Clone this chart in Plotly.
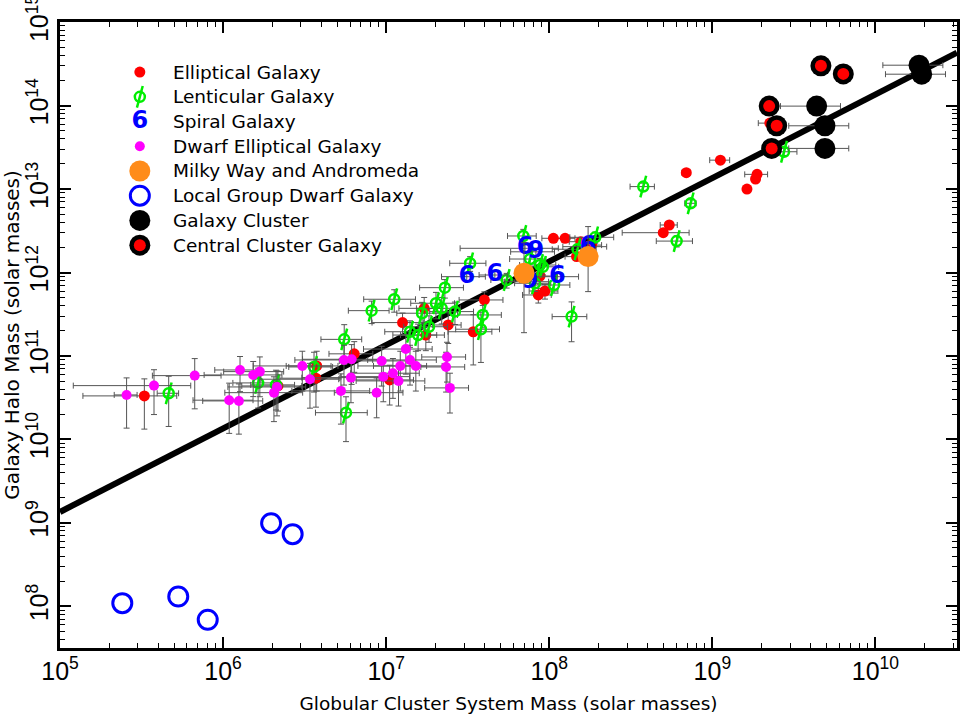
import plotly.graph_objects as go

# ---- data (solar masses) ----
fit_gc = [1e5, 3.16e10]
fit_halo = [1.35e9, 4.3e14]

ell_gc = [3.29e5, 2.17e6, 3.75e6, 3.71e6, 6.37e6, 1.05e7, 1.26e7, 1.71e7, 1.75e7, 2.40e7,
          4.00e7, 3.42e7, 8.77e7, 8.57e7, 9.41e7, 1.06e8, 1.25e8, 1.56e8, 1.82e8, 1.47e8,
          1.12e9, 6.92e8, 1.88e9, 1.84e9, 1.63e9, 5.44e8, 5.00e8, 2.25e9]
ell_halo = [3.32e10, 4.37e10, 7.59e10, 5.41e10, 1.06e11, 5.16e10, 2.51e11, 3.72e11, 1.78e11, 2.35e11,
            4.69e11, 1.95e11, 9.08e11, 5.38e11, 6.0e11, 2.57e12, 2.57e12, 2.34e12, 2.13e12, 1.55e12,
            2.22e13, 1.57e13, 1.50e13, 1.32e13, 1.0e13, 3.71e12, 3.00e12, 6.17e13]
ell_ex = [0.58, 0.4, 0.35, 0.4, 0.3, 0.4, 0.35, 0.3, 0.3, 0.2,
          0.3, 0.3, 0.2, 0.2, 0.2, 0.15, 0.15, 0.15, 0.15, 0.15,
          0.14, 0.06, 0.16, 0, 0, 0.12, 0.44, 0.15]
ell_ey = [0.6, 0.5, 0.5, 0.55, 0.4, 0.5, 0.3, 0.35, 0.35, 0.4,
          0.25, 0.6, 0.2, 0.2, 0.2, 0.1, 0.1, 0.1, 0.1, 0.1,
          0.05, 0.05, 0.05, 0, 0, 0.05, 0.1, 0.05]

len_gc = [4.64e5, 1.64e6, 2.11e6, 3.61e6, 5.53e6, 5.67e6, 8.14e6, 1.12e7, 1.40e7, 1.57e7,
          1.83e7, 1.66e7, 2.02e7, 2.19e7, 2.29e7, 2.64e7, 3.91e7, 3.81e7, 3.27e7, 5.48e7,
          6.93e7, 7.62e7, 8.77e7, 9.14e7, 8.17e7, 1.07e8, 1.37e8, 1.49e8, 1.91e8, 3.77e8,
          7.36e8, 6.04e8, 2.75e9]
len_halo = [3.57e10, 4.75e10, 4.50e10, 7.38e10, 1.58e11, 2.09e10, 3.49e11, 4.78e11, 1.95e11, 1.78e11,
            2.24e11, 3.25e11, 4.28e11, 3.72e11, 6.58e11, 3.40e11, 3.10e11, 2.09e11, 1.29e12, 8.13e11,
            2.74e12, 1.45e12, 1.23e12, 1.17e12, 7.43e11, 7.08e11, 2.96e11, 1.90e12, 2.64e12, 1.07e13,
            6.75e12, 2.38e12, 2.80e13]
len_ex = [0.15, 0.3, 0.3, 0.3, 0.28, 0.35, 0.28, 0.35, 0.3, 0.3,
          0.3, 0.3, 0.3, 0.3, 0.3, 0.3, 0.3, 0.3, 0.25, 0.2,
          0.2, 0.25, 0.25, 0.25, 0.25, 0.25, 0.24, 0.3, 0.3, 0.17,
          0.08, 0.25, 0.2]
len_ey = [0.6, 0.5, 0.5, 0.5, 0.5, 0.55, 0.3, 0.3, 0.35, 0.35,
          0.35, 0.35, 0.35, 0.35, 0.25, 0.3, 0.3, 0.6, 0.2, 0.2,
          0.2, 0.2, 0.2, 0.2, 0.2, 0.2, 0.5, 0.15, 0.15, 0.1,
          0.1, 0.15, 0.1]

sp_gc = [3.12e7, 4.64e7, 7.10e7, 8.28e7, 7.62e7, 1.12e8, 1.73e8]
sp_halo = [8.91e11, 9.33e11, 1.95e12, 1.77e12, 7.76e11, 8.91e11, 2.04e12]
sp_glyph = ["6", "6", "6", "9", "9", "6", "6"]
sp_ex = [0.3, 0.2, 0.6, 0.3, 0.3, 0.35, 0.3]
sp_ey = [0.1, 0.1, 0.1, 0.1, 0.1, 0.1, 0.1]

dw_gc = [2.56e5, 3.77e5, 6.70e5, 1.09e6, 1.25e6, 1.27e6, 1.53e6, 1.68e6, 2.14e6, 2.05e6,
         3.06e6, 3.41e6, 5.28e6, 5.51e6, 6.14e6, 6.08e6, 8.74e6, 9.38e6, 9.60e6, 1.10e7,
         1.19e7, 1.22e7, 1.32e7, 1.40e7, 1.52e7, 2.36e7, 2.33e7, 2.46e7]
dw_halo = [3.41e10, 4.41e10, 5.81e10, 2.95e10, 2.89e10, 6.79e10, 5.92e10, 6.49e10, 4.25e10, 3.63e10,
           7.59e10, 5.26e10, 3.81e10, 8.95e10, 9.12e10, 5.50e10, 3.63e10, 8.71e10, 5.65e10, 6.21e10,
           5.02e10, 7.59e10, 1.21e11, 8.95e10, 7.59e10, 9.72e10, 7.38e10, 4.14e10]
dw_ex = [0.16, 0.68, 0.45, 0.4, 0.4, 0.3, 0.5, 0.4, 0.5, 0.5,
         0.5, 0.5, 0.5, 0.5, 0.5, 0.5, 0.45, 0.45, 0.45, 0.45,
         0.45, 0.45, 0.45, 0.45, 0.45, 0.3, 0.3, 0.3]
dw_ey = [0.6, 0.55, 0.6, 0.6, 0.6, 0.45, 0.45, 0.5, 0.55, 0.55,
         0.5, 0.55, 0.6, 0.5, 0.5, 0.5, 0.5, 0.5, 0.5, 0.5,
         0.5, 0.5, 0.5, 0.5, 0.5, 0.5, 0.5, 0.5]

mw_gc = [7.00e7, 1.73e8]
mw_halo = [9.8e11, 1.55e12]
mw_err_up = [1.3e12, 2.0e12]
mw_err_down = [7.9e11, 9.6e11]

lg_gc = [2.41e5, 5.31e5, 8.05e5, 1.97e6, 2.67e6]
lg_halo = [1.09e8, 1.31e8, 6.89e7, 9.9e8, 7.32e8]

cl_gc = [4.36e9, 4.90e9, 4.90e9, 1.85e10, 1.92e10]
cl_halo = [9.86e13, 5.73e13, 3.07e13, 3.05e14, 2.38e14]
cl_ex = [0.4, 0.4, 0.4, 0.4, 0.4]
cl_ey = [0.0, 0.12, 0.12, 0.1, 0.1]

cc_gc = [4.63e9, 6.35e9, 2.23e9, 2.48e9, 2.31e9]
cc_halo = [3.00e14, 2.40e14, 9.86e13, 5.73e13, 3.07e13]
cc_ey = [0.1, 0.1, 0.0, 0.12, 0.12]

legend_labels = ["Elliptical Galaxy", "Lenticular Galaxy", "Spiral Galaxy",
                 "Dwarf Elliptical Galaxy", "Milky Way and Andromeda",
                 "Local Group Dwarf Galaxy", "Galaxy Cluster", "Central Cluster Galaxy"]

RED, GREEN, BLUE, MAGENTA, ORANGE = '#ff0000', '#00ee00', '#0000ff', '#ff00ff', '#ff8c1a'
FONT = 'DejaVu Sans'


def err(vals, fracs):
    return [v * f for v, f in zip(vals, fracs)]


def ebar(vals, fracs):
    return dict(type='data', array=err(vals, fracs), color='#555555', thickness=1, width=3)


fig = go.Figure()

fig.add_trace(go.Scatter(x=fit_gc, y=fit_halo, mode='lines', line=dict(color='black', width=6)))

fig.add_trace(go.Scatter(x=ell_gc, y=ell_halo, mode='markers',
                         marker=dict(color=RED, size=11),
                         error_x=ebar(ell_gc, ell_ex), error_y=ebar(ell_halo, ell_ey)))

fig.add_trace(go.Scatter(x=len_gc, y=len_halo, mode='markers',
                         marker=dict(symbol='circle-open', color=GREEN, size=10,
                                     line=dict(color=GREEN, width=2.5)),
                         error_x=ebar(len_gc, len_ex), error_y=ebar(len_halo, len_ey)))
fig.add_trace(go.Scatter(x=len_gc, y=len_halo, mode='markers',
                         marker=dict(symbol='line-ns-open', color=GREEN, size=16, angle=15,
                                     line=dict(color=GREEN, width=2.5))))

fig.add_trace(go.Scatter(x=sp_gc, y=sp_halo, mode='text', text=sp_glyph,
                         textposition='middle center',
                         textfont=dict(color=BLUE, size=24, family=FONT, weight='bold'),
                         error_x=ebar(sp_gc, sp_ex), error_y=ebar(sp_halo, sp_ey)))

fig.add_trace(go.Scatter(x=dw_gc, y=dw_halo, mode='markers',
                         marker=dict(color=MAGENTA, size=10),
                         error_x=ebar(dw_gc, dw_ex), error_y=ebar(dw_halo, dw_ey)))

fig.add_trace(go.Scatter(x=mw_gc, y=mw_halo, mode='markers',
                         marker=dict(color=ORANGE, size=21),
                         error_y=dict(type='data', symmetric=False, array=mw_err_up,
                                      arrayminus=mw_err_down, color='#555555', thickness=1, width=3)))

fig.add_trace(go.Scatter(x=lg_gc, y=lg_halo, mode='markers',
                         marker=dict(symbol='circle-open', color=BLUE, size=19,
                                     line=dict(color=BLUE, width=3))))

fig.add_trace(go.Scatter(x=cl_gc, y=cl_halo, mode='markers',
                         marker=dict(color='black', size=21),
                         error_x=ebar(cl_gc, cl_ex), error_y=ebar(cl_halo, cl_ey)))

fig.add_trace(go.Scatter(x=cc_gc, y=cc_halo, mode='markers',
                         marker=dict(color='black', size=21),
                         error_y=ebar(cc_halo, cc_ey)))
fig.add_trace(go.Scatter(x=cc_gc, y=cc_halo, mode='markers',
                         marker=dict(color=RED, size=12)))

# ---- hand-made key, drawn on an overlay axis spanning the plot area ----
n = len(legend_labels)
key_x = 0.089
key_y = [0.92 - i * 0.0395 for i in range(n)]
lx = [key_x] * n
sym = [
    dict(color=RED, size=11),
    dict(symbol='circle-open', color=GREEN, size=10, line=dict(color=GREEN, width=2.5)),
    None,
    dict(color=MAGENTA, size=10),
    dict(color=ORANGE, size=21),
    dict(symbol='circle-open', color=BLUE, size=19, line=dict(color=BLUE, width=3)),
    dict(color='black', size=21),
    dict(color='black', size=21),
]
for i, m in enumerate(sym):
    if m is None:
        fig.add_trace(go.Scatter(x=[lx[i]], y=[key_y[i]], xaxis='x2', yaxis='y2', mode='text',
                                 text=['6'], textfont=dict(color=BLUE, size=24, family=FONT, weight='bold')))
    else:
        fig.add_trace(go.Scatter(x=[lx[i]], y=[key_y[i]], xaxis='x2', yaxis='y2', mode='markers', marker=m))
fig.add_trace(go.Scatter(x=[lx[1]], y=[key_y[1]], xaxis='x2', yaxis='y2', mode='markers',
                         marker=dict(symbol='line-ns-open', color=GREEN, size=16, angle=15,
                                     line=dict(color=GREEN, width=2.5))))
fig.add_trace(go.Scatter(x=[lx[7]], y=[key_y[7]], xaxis='x2', yaxis='y2', mode='markers',
                         marker=dict(color=RED, size=12)))

for i, lab in enumerate(legend_labels):
    fig.add_annotation(x=0.124, y=key_y[i], xref='paper', yref='paper', text=lab,
                       showarrow=False, xanchor='left', yanchor='middle',
                       font=dict(family=FONT, size=18.5, color='black'))

axis_common = dict(type='log', dtick=1, exponentformat='power', showgrid=False, zeroline=False,
                   automargin=False, ticklabeloverflow='allow',
                   ticks='inside', ticklen=11, tickwidth=1.5, tickcolor='black',
                   showline=True, linewidth=2.5, linecolor='black', mirror='ticks',
                   minor=dict(ticks='inside', ticklen=5, tickwidth=1.2, tickcolor='black', dtick='D1'),
                   tickfont=dict(family='Liberation Sans', size=20, color='black'))

fig.update_layout(
    width=960, height=717,
    margin=dict(l=60, r=3, t=22, b=69),
    paper_bgcolor='white', plot_bgcolor='white',
    showlegend=False,
    xaxis=dict(axis_common, range=[5, 10.5],
               title=dict(text='Globular Cluster System Mass (solar masses)', standoff=14,
                          font=dict(family=FONT, size=18.5, color='black'))),
    yaxis=dict(axis_common, range=[7.5, 15.002], tickangle=-90,
               title=dict(text='Galaxy Halo Mass (solar masses)', standoff=6,
                          font=dict(family=FONT, size=20, color='black'))),
    xaxis2=dict(range=[0, 1], overlaying='x', anchor='y2', visible=False),
    yaxis2=dict(range=[0, 1], overlaying='y', anchor='x2', visible=False),
)

# the page body has a default 8px margin; drop it so the figure fills the window
fig.write_html("out.html", config={'displayModeBar': False},
               post_script="document.body.style.margin='0';")
